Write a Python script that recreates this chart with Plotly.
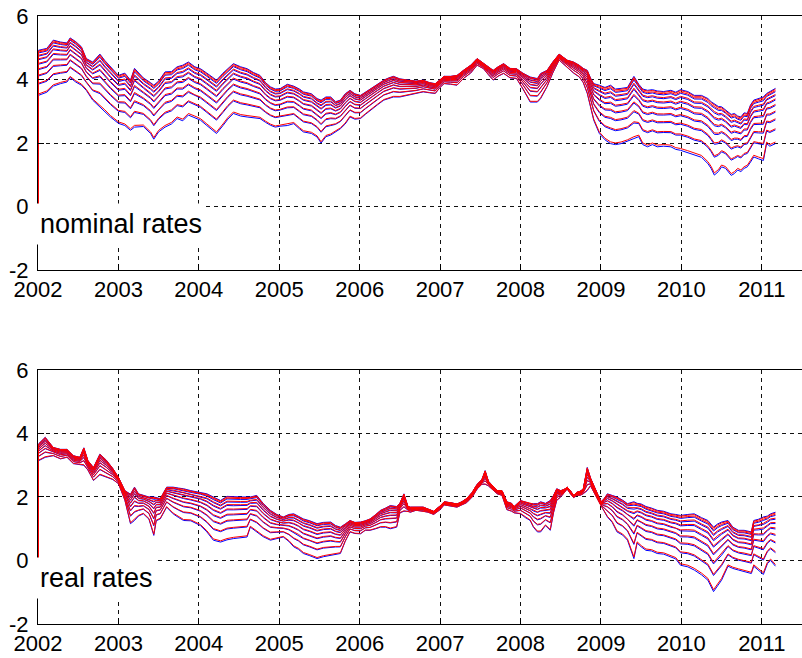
import plotly.graph_objects as go

# ---- axis ticks -------------------------------------------------------------
year_ticks = [2002, 2003, 2004, 2005, 2006, 2007, 2008, 2009, 2010, 2011]
y_ticks = [-2, 0, 2, 4, 6]
y_tick_text = ["-2", "0", "2", "4", "6"]

# ---- nominal rates: time (decimal year), lowest and highest maturity curve --
nominal_t = (
    [2002.000, 2002.005, 2002.11, 2002.19, 2002.28, 2002.36, 2002.40, 2002.47, 2002.54, 2002.60, 2002.68, 2002.77, 2002.83, 2002.90]
    + [2003.00, 2003.08, 2003.15, 2003.20, 2003.31, 2003.40, 2003.44, 2003.50, 2003.58, 2003.66, 2003.73, 2003.80, 2003.87, 2003.95]
    + [2004.02, 2004.10, 2004.22, 2004.30, 2004.36, 2004.43, 2004.52, 2004.60, 2004.68, 2004.76, 2004.83, 2004.89, 2004.95]
    + [2005.01, 2005.10, 2005.18, 2005.25, 2005.30, 2005.40, 2005.47, 2005.52, 2005.58, 2005.64, 2005.70, 2005.76, 2005.82, 2005.88, 2005.94]
    + [2006.01, 2006.07, 2006.13, 2006.22, 2006.30, 2006.36, 2006.42, 2006.50, 2006.59, 2006.70, 2006.79, 2006.87, 2006.94]
    + [2007.00, 2007.05, 2007.13, 2007.21, 2007.29, 2007.38, 2007.46, 2007.54, 2007.60, 2007.66, 2007.72, 2007.79, 2007.87, 2007.95]
    + [2008.03, 2008.12, 2008.21, 2008.25, 2008.33, 2008.40, 2008.48, 2008.53, 2008.58, 2008.66, 2008.73, 2008.78, 2008.83, 2008.87, 2008.91, 2008.98]
    + [2009.05, 2009.12, 2009.18, 2009.25, 2009.33, 2009.41, 2009.47, 2009.52, 2009.58, 2009.64, 2009.70, 2009.78, 2009.87, 2009.93, 2009.99]
    + [2010.08, 2010.16, 2010.25, 2010.33, 2010.37, 2010.41, 2010.46, 2010.50, 2010.55, 2010.62, 2010.66, 2010.70, 2010.74, 2010.78, 2010.82, 2010.86, 2010.90, 2010.96]
    + [2011.02, 2011.06, 2011.10, 2011.17]
)
nominal_low = (
    [0.00, 3.50, 3.60, 3.79, 3.87, 3.92, 4.06, 3.92, 3.82, 3.66, 3.35, 3.14, 3.00, 2.82]
    + [2.62, 2.55, 2.40, 2.50, 2.52, 2.30, 2.12, 2.35, 2.50, 2.60, 2.77, 2.70, 2.88, 2.80]
    + [2.72, 2.55, 2.30, 2.55, 2.75, 2.93, 2.85, 2.82, 2.80, 2.77, 2.65, 2.56, 2.50]
    + [2.53, 2.55, 2.61, 2.45, 2.35, 2.30, 2.19, 2.00, 2.20, 2.25, 2.35, 2.45, 2.60, 2.82, 2.75]
    + [2.77, 2.90, 3.03, 3.20, 3.35, 3.40, 3.45, 3.45, 3.50, 3.55, 3.61, 3.58, 3.56]
    + [3.75, 3.87, 3.85, 3.82, 4.03, 4.20, 4.45, 4.34, 4.15, 3.98, 4.10, 4.19, 4.05, 4.03]
    + [3.70, 3.29, 3.29, 3.40, 3.77, 4.20, 4.61, 4.50, 4.40, 4.20, 4.08, 3.90, 3.56, 3.10, 2.72, 2.30]
    + [2.10, 1.98, 1.95, 1.98, 2.05, 2.14, 2.20, 1.95, 1.88, 1.95, 1.88, 1.90, 1.88, 1.80, 1.77]
    + [1.70, 1.62, 1.55, 1.35, 1.20, 0.99, 1.10, 1.25, 1.20, 0.98, 1.04, 1.15, 1.10, 1.20, 1.25, 1.40, 1.56, 1.50]
    + [1.45, 1.98, 1.90, 1.98]
)
nominal_high = (
    [0.00, 4.92, 4.98, 5.24, 5.18, 5.15, 5.31, 5.19, 5.03, 4.66, 4.55, 4.80, 4.60, 4.40]
    + [4.13, 4.20, 3.98, 4.35, 4.05, 3.90, 3.82, 3.95, 4.24, 4.25, 4.40, 4.45, 4.55, 4.40]
    + [4.34, 4.20, 3.98, 4.20, 4.35, 4.50, 4.40, 4.34, 4.22, 4.13, 3.90, 3.77, 3.70]
    + [3.71, 3.85, 3.79, 3.70, 3.61, 3.55, 3.40, 3.35, 3.45, 3.45, 3.30, 3.35, 3.55, 3.66, 3.55]
    + [3.50, 3.60, 3.71, 3.85, 3.98, 4.05, 4.10, 4.02, 3.98, 3.95, 3.98, 3.90, 3.87]
    + [4.00, 4.10, 4.10, 4.13, 4.29, 4.45, 4.66, 4.50, 4.40, 4.29, 4.40, 4.50, 4.35, 4.34]
    + [4.20, 4.08, 4.03, 4.19, 4.29, 4.55, 4.80, 4.70, 4.61, 4.55, 4.45, 4.35, 4.29, 4.05, 3.87, 3.82]
    + [3.75, 3.82, 3.70, 3.72, 3.75, 4.10, 3.85, 3.70, 3.66, 3.68, 3.64, 3.62, 3.66, 3.60, 3.68]
    + [3.62, 3.50, 3.50, 3.40, 3.30, 3.24, 3.15, 3.14, 3.05, 2.90, 2.93, 2.85, 2.82, 2.95, 2.93, 3.20, 3.35, 3.40]
    + [3.45, 3.56, 3.62, 3.72]
)

# ---- real rates ---------------------------------------------------------------
real_t = (
    [2002.000, 2002.005, 2002.09, 2002.19, 2002.28, 2002.36, 2002.44, 2002.52, 2002.57, 2002.62, 2002.69, 2002.77, 2002.85, 2002.93]
    + [2003.00, 2003.08, 2003.15, 2003.20, 2003.25, 2003.31, 2003.38, 2003.44, 2003.47, 2003.52, 2003.60, 2003.68, 2003.75, 2003.81, 2003.90]
    + [2004.02, 2004.10, 2004.18, 2004.27, 2004.35, 2004.43, 2004.52, 2004.60, 2004.64, 2004.72, 2004.80, 2004.89, 2004.97]
    + [2005.05, 2005.12, 2005.18, 2005.24, 2005.30, 2005.38, 2005.47, 2005.55, 2005.64, 2005.70, 2005.76, 2005.82, 2005.88, 2005.94]
    + [2006.01, 2006.07, 2006.13, 2006.20, 2006.26, 2006.32, 2006.38, 2006.46, 2006.50, 2006.55, 2006.60, 2006.63, 2006.70, 2006.79, 2006.85, 2006.92]
    + [2007.00, 2007.05, 2007.13, 2007.21, 2007.27, 2007.33, 2007.40, 2007.46, 2007.52, 2007.56, 2007.60, 2007.66, 2007.71, 2007.77, 2007.83, 2007.89, 2007.92]
    + [2008.00, 2008.06, 2008.12, 2008.16, 2008.21, 2008.25, 2008.31, 2008.37, 2008.41, 2008.45, 2008.50, 2008.55, 2008.58, 2008.62, 2008.66, 2008.70, 2008.74, 2008.78, 2008.83, 2008.87, 2008.93]
    + [2009.00, 2009.04, 2009.08, 2009.14, 2009.20, 2009.27, 2009.33, 2009.41, 2009.45, 2009.50, 2009.56, 2009.63, 2009.70, 2009.78, 2009.87, 2009.93, 2009.99]
    + [2010.08, 2010.16, 2010.25, 2010.33, 2010.40, 2010.45, 2010.50, 2010.58, 2010.64, 2010.71, 2010.78, 2010.87, 2010.90, 2010.96]
    + [2011.02, 2011.07, 2011.11, 2011.17]
)
real_low = (
    [0.00, 3.14, 3.25, 3.30, 3.20, 3.25, 3.05, 3.02, 3.00, 2.85, 2.52, 2.70, 2.62, 2.55]
    + [2.42, 1.90, 1.16, 1.26, 1.40, 1.47, 1.30, 0.79, 1.25, 1.31, 1.68, 1.47, 1.35, 1.26, 1.25]
    + [1.10, 0.90, 0.64, 0.58, 0.65, 0.69, 0.72, 0.74, 1.05, 0.90, 0.75, 0.64, 0.70]
    + [0.74, 0.60, 0.43, 0.35, 0.22, 0.15, 0.06, 0.12, 0.16, 0.20, 0.22, 0.60, 0.90, 0.85]
    + [0.84, 0.95, 0.95, 1.00, 1.05, 1.05, 1.00, 1.05, 1.50, 1.55, 1.55, 1.52, 1.58, 1.55, 1.52, 1.45]
    + [1.60, 1.75, 1.72, 1.68, 1.75, 1.82, 2.00, 2.25, 2.40, 2.40, 2.35, 2.20, 2.10, 2.05, 1.60, 1.55, 1.50]
    + [1.47, 1.35, 1.26, 1.05, 0.90, 0.90, 1.10, 0.95, 1.50, 1.89, 2.00, 2.15, 2.25, 2.10, 1.98, 2.05, 2.05, 2.10, 2.20, 2.35, 2.05]
    + [1.72, 1.55, 1.37, 1.20, 0.90, 0.80, 0.64, 0.06, 0.55, 0.43, 0.32, 0.30, 0.22, 0.20, 0.11, 0.05, -0.15]
    + [-0.20, -0.30, -0.45, -0.62, -0.98, -0.80, -0.62, -0.18, -0.25, -0.30, -0.35, -0.41, -0.18, -0.30]
    + [-0.44, -0.10, 0.00, -0.18]
)
real_high = (
    [0.00, 3.67, 3.88, 3.56, 3.50, 3.50, 3.30, 3.25, 3.55, 3.15, 2.93, 3.35, 3.16, 2.90]
    + [2.62, 2.20, 2.09, 2.31, 2.10, 2.05, 2.00, 2.00, 1.98, 1.95, 2.31, 2.31, 2.28, 2.26, 2.20]
    + [2.15, 2.10, 2.00, 1.89, 2.02, 2.00, 2.00, 2.00, 2.00, 2.05, 1.80, 1.58, 1.45]
    + [1.37, 1.45, 1.47, 1.40, 1.31, 1.25, 1.16, 1.20, 1.21, 1.10, 1.05, 1.15, 1.26, 1.20]
    + [1.21, 1.25, 1.31, 1.45, 1.58, 1.65, 1.73, 1.70, 1.80, 2.10, 1.70, 1.68, 1.68, 1.68, 1.62, 1.55]
    + [1.72, 1.85, 1.82, 1.78, 1.85, 1.95, 2.15, 2.40, 2.55, 2.83, 2.50, 2.35, 2.20, 2.20, 1.85, 1.80, 1.70]
    + [1.89, 1.85, 1.79, 1.79, 1.79, 1.85, 1.80, 1.89, 2.05, 2.26, 2.20, 2.25, 2.31, 2.20, 2.05, 2.15, 2.18, 2.25, 2.93, 2.60, 2.25]
    + [1.85, 1.95, 2.10, 2.05, 2.00, 1.90, 1.79, 1.85, 1.80, 1.78, 1.70, 1.65, 1.58, 1.55, 1.47, 1.45, 1.42]
    + [1.45, 1.47, 1.35, 1.26, 1.05, 1.15, 1.21, 1.26, 1.05, 0.95, 0.95, 0.90, 1.26, 1.30]
    + [1.37, 1.40, 1.47, 1.52]
)

# Where each maturity curve sits between the lowest and highest one
# (observed curves in blue, fitted curves in red).
observed_pos = [0.00, 0.25, 0.43, 0.57, 0.69, 0.79, 0.87, 0.94, 1.00]
fitted_pos = [0.03, 0.27, 0.45, 0.59, 0.71, 0.81, 0.89, 0.96, 0.985]

panel_titles = ["nominal rates", "real rates"]

for a, b in [(nominal_t, nominal_low), (nominal_t, nominal_high), (real_t, real_low), (real_t, real_high)]:
    if len(a) != len(b):
        raise ValueError("length mismatch")


def curves(low, high, pos):
    return [[lo + p * (hi - lo) for lo, hi in zip(low, high)] for p in pos]


fig = go.Figure()
panels = [
    (nominal_t, nominal_low, nominal_high, "x", "y"),
    (real_t, real_low, real_high, "x2", "y2"),
]
for t, low, high, xa, ya in panels:
    for colour, pos in (("#0000ff", observed_pos), ("#ff0000", fitted_pos)):
        for ys in curves(low, high, pos):
            fig.add_trace(go.Scatter(
                x=t, y=ys, mode="lines", xaxis=xa, yaxis=ya,
                line=dict(color=colour, width=1), showlegend=False,
                hoverinfo="skip",
            ))

font = dict(family="Liberation Sans, Arial, sans-serif", size=22, color="black")

xcommon = dict(
    range=[2002, 2011.5], tickmode="array", tickvals=year_ticks,
    ticktext=[str(v) for v in year_ticks],
    showgrid=True, gridcolor="#111111", griddash="4px,4px", gridwidth=1,
    showline=True, linecolor="black", linewidth=1, mirror=True,
    ticks="inside", ticklen=6, tickcolor="black", zeroline=False,
    tickfont=font, ticklabelstandoff=0,
)
ycommon = dict(
    range=[-2, 6], tickmode="array", tickvals=y_ticks, ticktext=y_tick_text,
    showgrid=True, gridcolor="#111111", griddash="4px,4px", gridwidth=1,
    showline=True, linecolor="black", linewidth=1, mirror=False,
    ticks="inside", ticklen=6, tickcolor="black", zeroline=False,
    tickfont=font, ticklabelstandoff=4,
)

fig.update_layout(
    width=802, height=658,
    margin=dict(l=38, r=0, t=16, b=34),
    paper_bgcolor="white", plot_bgcolor="white",
    font=font,
    xaxis=dict(domain=[0, 1], anchor="y", **xcommon),
    yaxis=dict(domain=[0.5822, 1], anchor="x", **ycommon),
    xaxis2=dict(domain=[0, 1], anchor="y2", **xcommon),
    yaxis2=dict(domain=[0, 0.4178], anchor="x2", **ycommon),
)

for title, xr, yr in zip(panel_titles, ["x domain", "x2 domain"], ["y", "y2"]):
    fig.add_annotation(
        text=title, xref=xr, yref=yr, x=-0.003, y=0.1,
        xanchor="left", yanchor="top", showarrow=False,
        font=dict(family="Liberation Sans, Arial, sans-serif", size=27, color="black"),
        bgcolor="white", borderpad=3, height=34,
    )

fig.write_html("out.html")
